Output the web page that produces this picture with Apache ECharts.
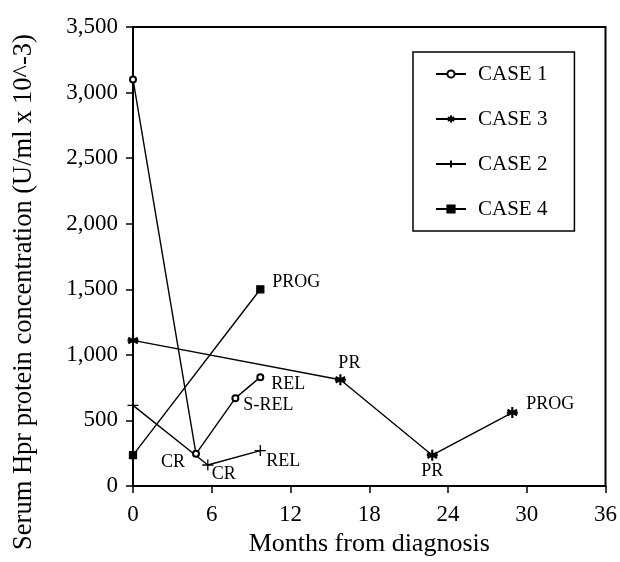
<!DOCTYPE html>
<html>
<head>
<meta charset="utf-8">
<script src="https://cdn.jsdelivr.net/npm/echarts@6/dist/echarts.min.js"></script>
<style>
  html,body{margin:0;padding:0;background:#fff;}
  .demo{width:620px;height:562px;}
</style>
</head>
<body>
<div class="demo"></div>
<script>
// values: [months, U/ml x 10^-3]
const case1 = [[0, 3100], [4.8, 245], [7.8, 670], [9.7, 830]]
const case1Labels = ['', 'CR', 'S-REL', 'REL']
const case3 = [[0, 1110], [15.8, 810], [22.8, 235], [28.9, 560]]
const case3Labels = ['', 'PR', 'PR', 'PROG']
const case2 = [[0, 615], [5.7, 160], [9.7, 270]]
const case2Labels = ['', 'CR', 'REL']
const case4 = [[0, 235], [9.7, 1500]]
const case4Labels = ['', 'PROG']
const xTicks = [0, 6, 12, 18, 24, 30, 36]
const yTicks = [0, 500, 1000, 1500, 2000, 2500, 3000, 3500]

;(function(){
  const chartinstance = echarts.init(document.querySelector('.demo'))
  const serif = 'Liberation Serif'
  // label offsets (px) relative to the point, per series
  const offsets = {
    c1: [null, [-23, 8], [33, 7], [28, 7]],
    c3: [null, [9, -17], [0, 16], [38, -8]],
    c2: [null, [16, 9], [23, 11]],
    c4: [null, [36, -7]]
  }
  function build(pts, labels, offs){
    return pts.map((p, i) => {
      const d = {value: p}
      if (labels[i]) {
        d.label = {show: true, position: 'inside', formatter: labels[i], offset: offs[i]}
      }
      return d
    })
  }
  const asterisk = 'path://M0,-5L0,5M-4.33,-2.5L4.33,2.5M-4.33,2.5L4.33,-2.5M-5,0L5,0'
  const plus = 'path://M-5,0L5,0M0,-5L0,5'
  const base = {
    type: 'line',
    clip: false,
    lineStyle: {color: '#000', width: 1.4},
    itemStyle: {color: '#000', borderColor: '#000', borderWidth: 1.3},
    label: {color: '#000', fontFamily: serif, fontSize: 18},
    emphasis: {disabled: true},
    animation: false
  }
  const option = {
    backgroundColor: '#fff',
    grid: {left: 133, right: 12, top: 27, bottom: 75, show: true, borderColor: '#000', borderWidth: 2},
    legend: {
      orient: 'vertical',
      left: 413,
      top: 52,
      padding: [10, 27, 10, 22],
      borderColor: '#000',
      borderWidth: 1.5,
      itemWidth: 30,
      itemHeight: 9,
      itemGap: 21,
      textStyle: {fontFamily: serif, fontSize: 21, color: '#000', lineHeight: 24, padding: [0, 0, 0, 7]},
      data: ['CASE 1', 'CASE 3', 'CASE 2', 'CASE 4']
    },
    xAxis: {
      type: 'value',
      min: xTicks[0],
      max: xTicks[xTicks.length - 1],
      interval: 6,
      name: 'Months from diagnosis',
      nameLocation: 'middle',
      nameGap: 45,
      nameTextStyle: {fontFamily: serif, fontSize: 26, color: '#000'},
      axisLine: {lineStyle: {color: '#000', width: 2}},
      axisTick: {show: true, length: 7, lineStyle: {color: '#000', width: 1.5}},
      axisLabel: {fontFamily: serif, fontSize: 23, color: '#000', margin: 17},
      splitLine: {show: false}
    },
    yAxis: {
      type: 'value',
      min: yTicks[0],
      max: yTicks[yTicks.length - 1],
      interval: 500,
      axisLine: {show: true, lineStyle: {color: '#000', width: 2}},
      axisTick: {show: true, length: 7, lineStyle: {color: '#000', width: 1.5}},
      axisLabel: {fontFamily: serif, fontSize: 23, color: '#000', margin: 15,
        formatter: v => v.toLocaleString('en-US')},
      splitLine: {show: false}
    },
    graphic: [{
      type: 'text',
      x: 24,
      y: 292,
      rotation: Math.PI / 2,
      style: {
        text: 'Serum Hpr protein concentration (U/ml x 10^-3)',
        font: '26.5px "Liberation Serif"',
        fill: '#000',
        align: 'center',
        verticalAlign: 'middle'
      }
    }],
    series: [
      Object.assign({}, base, {name: 'CASE 1', symbol: 'emptyCircle', symbolSize: 6,
        data: build(case1, case1Labels, offsets.c1)}),
      Object.assign({}, base, {name: 'CASE 3', symbol: asterisk, symbolSize: 11,
        itemStyle: {color: '#000', borderColor: '#000', borderWidth: 2.2},
        data: build(case3, case3Labels, offsets.c3)}),
      Object.assign({}, base, {name: 'CASE 2', symbol: plus, symbolSize: 11,
        data: build(case2, case2Labels, offsets.c2)}),
      Object.assign({}, base, {name: 'CASE 4', symbol: 'rect', symbolSize: 7,
        data: build(case4, case4Labels, offsets.c4)})
    ]
  }
  option && chartinstance.setOption(option)
  window.addEventListener('resize',()=>{
    chartinstance.resize();
  })
})();
</script>
</body>
</html>
